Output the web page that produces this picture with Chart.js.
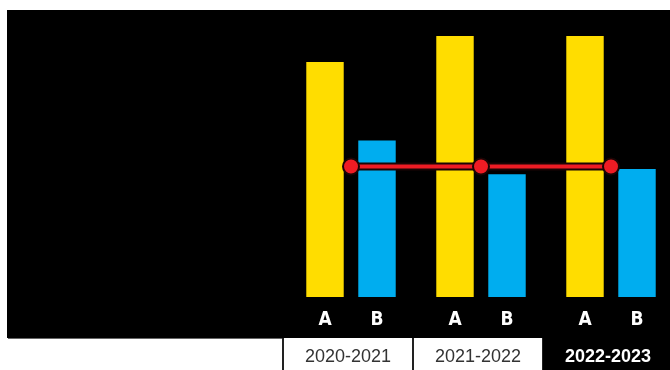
<!DOCTYPE html>
<html>
<head>
<meta charset="utf-8">
<script src="https://cdn.jsdelivr.net/npm/chart.js@4/dist/chart.umd.min.js"></script>
<style>
  html, body { margin: 0; padding: 0; background: #fff; }
  body { width: 670px; height: 370px; overflow: hidden; }
  canvas { display: block; }
</style>
</head>
<body>
<canvas id="c" width="680" height="370"></canvas>
<script>
// Seasons shown on the x axis; the last one is the current season
const seasons = ['2020-2021', '2021-2022', '2022-2023'];
const currentSeason = 2;

// Series values (0–100 scale)
const seriesA = [90, 100, 100];
const seriesB = [60, 47, 49];
const reference = [50, 50, 50];

const seriesNames = ['A', 'B'];

const YELLOW = '#ffdd00';
const BLUE = '#00adef';
const RED = '#ed1c24';

// Black panel behind the bars, plus the season boxes and A/B labels
const panelPlugin = {
  id: 'panel',
  beforeDraw(chart) {
    const { ctx, chartArea } = chart;
    ctx.save();
    ctx.fillStyle = '#fff';
    ctx.fillRect(0, 0, chart.width, chart.height);
    ctx.fillStyle = '#000';
    ctx.fillRect(7, 10, chart.width - 7, 328);
    ctx.fillStyle = '#666';
    ctx.fillRect(8, 338, chartArea.left - 10, 1);
    ctx.restore();
  },
  afterDraw(chart) {
    const { ctx, chartArea } = chart;
    const x = chart.scales.x;
    ctx.save();

    // series letters under each bar
    ctx.fillStyle = '#fff';
    ctx.font = "bold 19px 'Liberation Sans Narrow', 'DejaVu Sans Condensed', sans-serif";
    ctx.textAlign = 'center';
    ctx.textBaseline = 'alphabetic';
    chart.data.datasets.forEach((ds, di) => {
      if (ds.type !== 'bar') return;
      chart.getDatasetMeta(di).data.forEach(bar => {
        ctx.fillText(ds.label, bar.x, chartArea.bottom + 28);
      });
    });

    // season boxes
    const w = x.getPixelForValue(1) - x.getPixelForValue(0);
    seasons.forEach((s, i) => {
      const cx = x.getPixelForValue(i);
      const left = cx - w / 2 - 3;
      const top = 338;
      const h = chart.height - top;
      if (i === currentSeason) {
        ctx.fillStyle = '#000';
        ctx.fillRect(left, top, w + 6, h);
        ctx.fillStyle = '#fff';
        ctx.font = "bold 18px 'Liberation Sans', Arial, sans-serif";
      } else {
        ctx.fillStyle = '#fff';
        ctx.fillRect(left, top, w, h);
        ctx.fillStyle = '#222';
        ctx.fillRect(left - 1, top, 2, h);
        ctx.fillRect(left + w - 1, top, 2, h);
        ctx.fillStyle = '#333';
        ctx.font = "18px 'Liberation Sans', Arial, sans-serif";
      }
      ctx.textAlign = 'center';
      ctx.textBaseline = 'alphabetic';
      ctx.fillText(s, cx - 3, 362);
    });
    ctx.restore();
  }
};

new Chart(document.getElementById('c'), {
  data: {
    labels: seasons,
    datasets: [
      {
        type: 'line',
        label: 'reference',
        data: reference,
        borderColor: RED,
        borderWidth: 4,
        pointRadius: 8,
        pointBackgroundColor: RED,
        pointBorderColor: '#1a0505',
        pointBorderWidth: 2,
        order: 0
      },
      {
        type: 'line',
        label: 'reference outline',
        data: reference,
        borderColor: '#1a0505',
        borderWidth: 8,
        pointRadius: 0,
        order: 1
      },
      {
        type: 'bar',
        label: seriesNames[0],
        data: seriesA,
        backgroundColor: YELLOW,
        categoryPercentage: 0.8,
        barPercentage: 0.72,
        order: 2
      },
      {
        type: 'bar',
        label: seriesNames[1],
        data: seriesB,
        backgroundColor: BLUE,
        categoryPercentage: 0.8,
        barPercentage: 0.72,
        order: 2
      }
    ]
  },
  options: {
    responsive: false,
    animation: false,
    layout: { autoPadding: false, padding: { left: 286, right: 4, top: 36, bottom: 73 } },
    scales: {
      x: { display: false, offset: true },
      y: { display: false, min: 0, max: 100 }
    },
    plugins: {
      legend: { display: false },
      tooltip: { enabled: false }
    }
  },
  plugins: [panelPlugin]
});
</script>
</body>
</html>
